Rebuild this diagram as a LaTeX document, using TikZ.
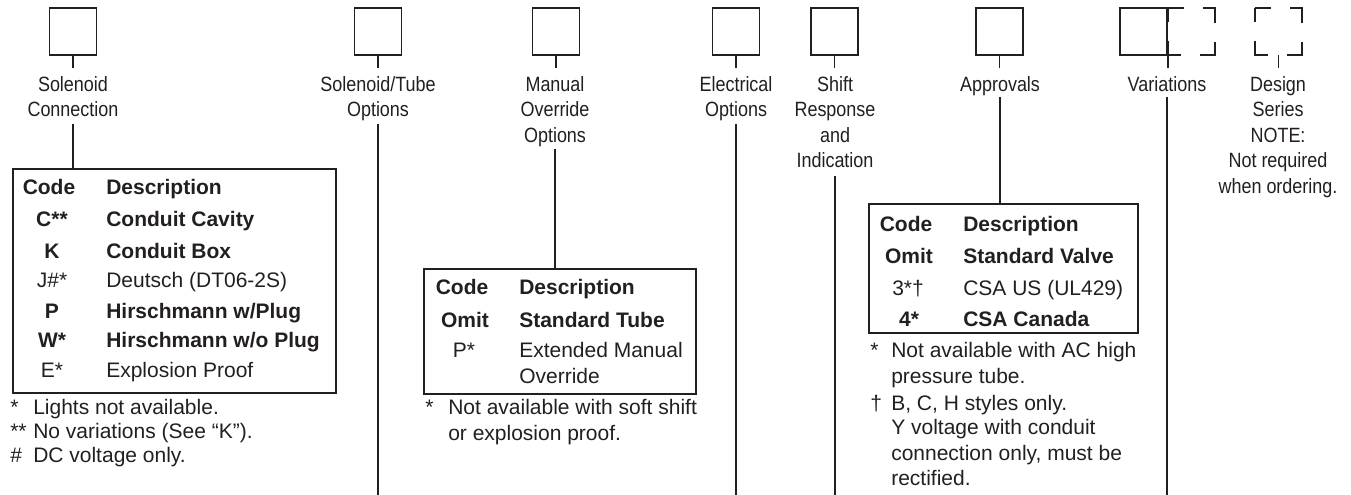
\documentclass[tikz,border=0pt]{standalone}
\usepackage{fontspec}
\setmainfont{Liberation Sans}
\newfontfamily\condfont[FakeStretch=0.87]{Liberation Sans}
\definecolor{ink}{RGB}{35,31,32}
\begin{document}
\begin{tikzpicture}[x=0.75pt,y=-0.75pt,
  box/.style={draw=ink, line width=1.4pt, minimum size=35.25pt, inner sep=0pt},
  ghost/.style={draw=none, minimum size=35.25pt, inner sep=0pt},
  dbox/.style={draw=ink, line width=1.4pt, dash pattern=on 21pt off 14.25pt, dash phase=10.5pt},
  lab/.style={font=\condfont\fontsize{15.5pt}{19.1pt}\selectfont, text=ink, align=center, anchor=north, inner sep=0pt},
  tbl/.style={draw=ink, line width=1.4pt, anchor=north west, inner sep=0pt},
  txt/.style={font=\fontsize{15.75pt}{19pt}\selectfont, text=ink, inner sep=0pt},
  cell/.style={txt, anchor=base west},
  bcell/.style={txt, anchor=base west, font=\bfseries\fontsize{15.75pt}{19pt}\selectfont},
  code/.style={txt, anchor=base},
  bcode/.style={txt, anchor=base, font=\bfseries\fontsize{15.75pt}{19pt}\selectfont},
  conn/.style={draw=ink, line width=1.4pt}
]
\useasboundingbox (0,0) rectangle (1351,495);
\coordinate (bot) at (0,495);

% boxes
\node[box] (b1) at (73,31.5) {};
\node[box] (b2) at (378,31.5) {};
\node[box] (b3) at (556,31.5) {};
\node[box] (b4) at (736,31.5) {};
\node[box] (b5) at (834.5,31.5) {};
\node[box] (b6) at (999.5,31.5) {};
\node[ghost] (b7d) at (1191.5,31.5) {};
\draw[dbox] (b7d.north west) rectangle (b7d.south east);
\node[box] (b7) at (1143.5,31.5) {};
\node[ghost] (b8) at (1278.5,31.5) {};
\draw[dbox] (b8.north west) rectangle (b8.south east);

% labels
\node[lab] (lab1) at (73,76) {Solenoid\\Connection};
\node[lab] (lab2) at (378,76) {Solenoid/Tube\\Options};
\node[lab] (lab3) at (555,76) {Manual\\Override\\Options};
\node[lab] (lab4) at (736,76) {Electrical\\Options};
\node[lab] (lab5) at (835,76) {Shift\\Response\\and\\Indication};
\node[lab] (lab6) at (1000,76) {Approvals};
\node[lab] (lab7) at (1167,76) {Variations};
\node[lab] (lab8) at (1278,76) {Design\\Series\\NOTE:\\Not required\\when ordering.};

% stubs
\draw[conn, shorten >=6pt] (b1.south) -- (b1.south |- lab1.north);
\draw[conn, shorten >=6pt] (b2.south) -- (b2.south |- lab2.north);
\draw[conn, shorten >=6pt] (b3.south) -- (b3.south |- lab3.north);
\draw[conn, shorten >=6pt] (b4.south) -- (b4.south |- lab4.north);
\draw[conn, shorten >=6pt] (b5.south) -- (b5.south |- lab5.north);
\draw[conn, shorten >=6pt] (b6.south) -- (b6.south |- lab6.north);
\draw[conn, shorten >=6pt] (b7.south east) -- (b7.south east |- lab7.north);
\draw[conn, shorten >=6pt] (b8.south) -- (b8.south |- lab8.north);

% tables
\node[tbl, minimum width=242.25pt, minimum height=168pt] (t1) at (12,168) {};
\node[tbl, minimum width=204pt, minimum height=93.75pt] (t2) at (423,268) {};
\node[tbl, minimum width=201.75pt, minimum height=96.75pt] (t3) at (868,203) {};

% connectors
\draw[conn, shorten <=5.25pt] (lab1.south) -- (lab1.south |- t1.north);
\draw[conn, shorten <=2.25pt] (lab2.south) -- (lab2.south |- bot);
\draw[conn, shorten <=1.5pt] (lab3.south) -- (lab3.south |- t2.north);
\draw[conn, shorten <=2.25pt] (lab4.south) -- (lab4.south |- bot);
\draw[conn, shorten <=6pt] (lab5.south) -- (lab5.south |- bot);
\draw[conn, shorten <=0.75pt] (lab6.south) -- (lab6.south |- t3.north);
\draw[conn, shorten <=3.75pt] (lab7.south) -- (lab7.south |- bot);

% table 1 content
\node[bcode] (t1c0) at (49,195) {Code};
\node[bcell] (t1d0) at (106,195) {Description};
\node[bcode] (t1c1) at (52,227) {C**};
\node[bcell] (t1d1) at (106,227) {Conduit Cavity};
\node[bcode] (t1c2) at (52,258) {K};
\node[bcell] (t1d2) at (106,258) {Conduit Box};
\node[code] (t1c3) at (52,287) {J\#*};
\node[cell] (t1d3) at (106,287) {Deutsch (DT06-2S)};
\node[bcode] (t1c4) at (52,318) {P};
\node[bcell] (t1d4) at (106,318) {Hirschmann w/Plug};
\node[bcode] (t1c5) at (52,347) {W*};
\node[bcell] (t1d5) at (106,347) {Hirschmann w/o Plug};
\node[code] (t1c6) at (52,377) {E*};
\node[cell] (t1d6) at (106,377) {Explosion Proof};
\node[cell] (f1m1) at (10,414) {*};
\node[cell] (f1t1) at (33,414) {Lights not available.};
\node[cell] (f1m2) at (10,438) {**};
\node[cell] (f1t2) at (33,438) {No variations (See “K”).};
\node[cell] (f1m3) at (10,462) {\#};
\node[cell] (f1t3) at (33,462) {DC voltage only.};

% table 2 content
\node[bcode] (t2c0) at (462,294) {Code};
\node[bcell] (t2d0) at (519,294) {Description};
\node[bcode] (t2c1) at (465,327) {Omit};
\node[bcell] (t2d1) at (519,327) {Standard Tube};
\node[code] (t2c2) at (464,357) {P*};
\node[cell] (t2d2) at (519,357) {Extended Manual};
\node[cell] (t2d3) at (519,383) {Override};
\node[cell] (f2m1) at (425,414) {*};
\node[cell] (f2t1) at (448,414) {Not available with soft shift};
\node[cell] (f2t2) at (448,440) {or explosion proof.};

% table 3 content
\node[bcode] (t3c0) at (906,232) {Code};
\node[bcell] (t3d0) at (963,232) {Description};
\node[bcode] (t3c1) at (909,263) {Omit};
\node[bcell] (t3d1) at (963,263) {Standard Valve};
\node[code] (t3c2) at (908,295) {3*†};
\node[cell] (t3d2) at (963,295) {CSA US (UL429)};
\node[bcode] (t3c3) at (909,326) {4*};
\node[bcell] (t3d3) at (963,326) {CSA Canada};
\node[cell] (f3m1) at (870,357) {*};
\node[cell] (f3t1) at (891,357) {Not available with AC high};
\node[cell] (f3t2) at (891,383) {pressure tube.};
\node[cell] (f3m2) at (870,410) {†};
\node[cell] (f3t3) at (891,410) {B, C, H styles only.};
\node[cell] (f3t4) at (891,434) {Y voltage with conduit};
\node[cell] (f3t5) at (891,460) {connection only, must be};
\node[cell] (f3t6) at (891,485) {rectified.};
\end{tikzpicture}
\end{document}
